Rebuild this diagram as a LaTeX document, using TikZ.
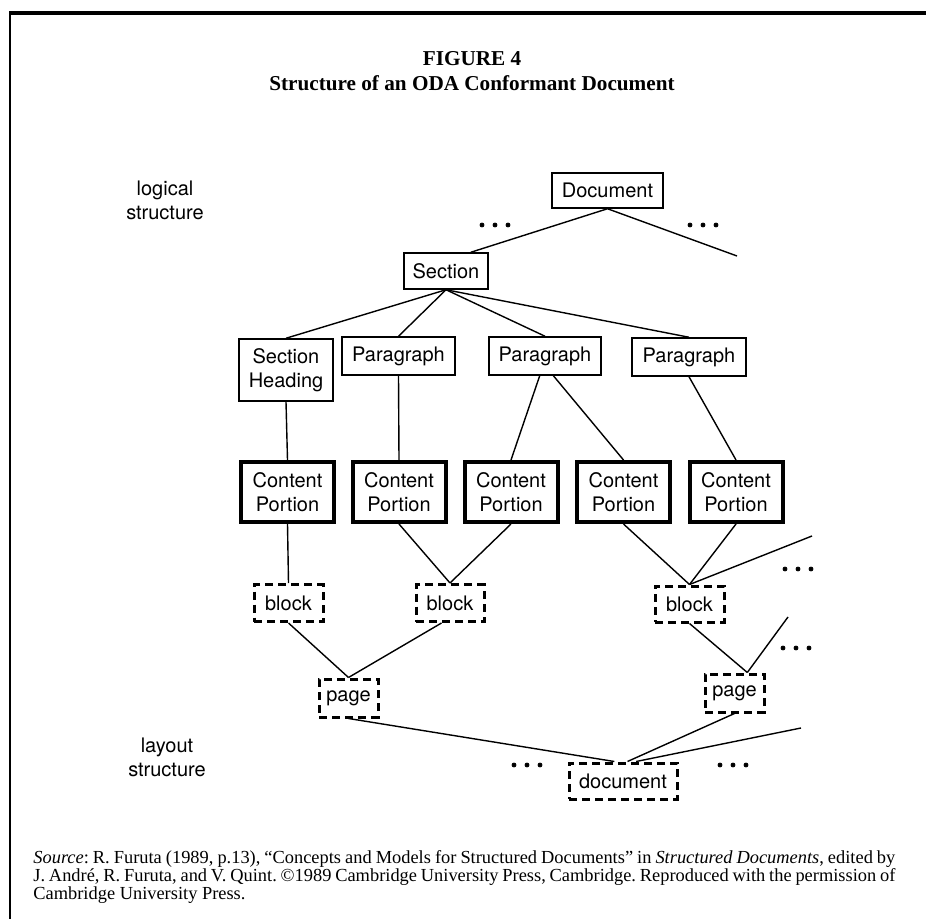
\documentclass[tikz,border=0pt]{standalone}
\usepackage{fontspec}
\setmainfont{Liberation Serif}
\setsansfont{TeX Gyre Heros}
\frenchspacing
\begin{document}
\begin{tikzpicture}[x=0.5pt,y=-0.5pt,
  lbox/.style={draw,line width=0.75pt,inner sep=0pt,align=center,font=\sffamily\fontsize{10}{12}\selectfont},
  cbox/.style={lbox,line width=2pt,minimum width=46.5pt,minimum height=30pt},
  dbox/.style={lbox,line width=1.5pt,dash pattern=on 4pt off 2.5pt},
  edge/.style={line width=0.7pt}]
\useasboundingbox (0,0) rectangle (926,919);
%frame
\draw [line width=2pt] (9,13)--(926,13);
\draw [line width=1pt] (9.5,13)--(9.5,919);
%title
\node (fig) at (472,59) {\fontsize{10.6}{12}\selectfont\bfseries FIGURE 4};
\node (title) at (472,83) {\fontsize{10.6}{12}\selectfont\bfseries Structure of an ODA Conformant Document};
\node (logical) [align=center,font=\sffamily\fontsize{10}{12}\selectfont] at (165,200) {logical\\structure};
\node (layout) [align=center,font=\sffamily\fontsize{10}{12}\selectfont] at (167,757) {layout\\structure};
%logical structure
\node (lgdoc) [lbox,minimum width=55.5pt,minimum height=17.5pt] at (607.5,190.5) {Document};
\node (sec) [lbox,minimum width=42pt,minimum height=18pt] at (446,271) {Section};
\node (sh) [lbox,minimum width=47pt,minimum height=31pt] at (286,370) {Section\\Heading};
\node (para1) [lbox,minimum width=56.5pt,minimum height=19pt] at (398.5,356) {Paragraph};
\node (para2) [lbox,minimum width=56pt,minimum height=19pt] at (545,356) {Paragraph};
\node (para3) [lbox,minimum width=57pt,minimum height=19pt] at (689,357) {Paragraph};
\node (cp1) [cbox] at (287.5,492) {Content\\Portion};
\node (cp2) [cbox] at (399,492) {Content\\Portion};
\node (cp3) [cbox] at (511,492) {Content\\Portion};
\node (cp4) [cbox] at (623.5,492) {Content\\Portion};
\node (cp5) [cbox] at (736,492) {Content\\Portion};
%layout structure
\node (blk1) [dbox,minimum width=34.5pt,minimum height=18.5pt] at (288.5,603) {block};
\node (blk2) [dbox,minimum width=34pt,minimum height=18.5pt] at (450,603) {block};
\node (blk3) [dbox,minimum width=34.5pt,minimum height=18pt] at (689.5,604) {block};
\node (pg1) [dbox,minimum width=29.5pt,minimum height=19pt] at (348.5,698) {page};
\node (pg2) [dbox,minimum width=29.5pt,minimum height=19pt] at (734.5,693) {page};
\node (lydoc) [dbox,minimum width=54pt,minimum height=18pt] at (623,781) {document};
\coordinate (e1) at (737,256);
\coordinate (e2) at (812,536);
\coordinate (e3) at (788,617);
\coordinate (e4) at (801,728);
%
\draw [edge] (lgdoc.south)--(sec.37);
\draw [edge] (lgdoc.south)--(e1);
\draw [edge] (sec.south)--(sh.north);
\draw [edge] (sec.south)--(para1.north);
\draw [edge] (sec.south)--(para2.north);
\draw [edge] (sec.south)--(para3.north);
\draw [edge] (sh.south)--(cp1.north);
\draw [edge] (para1.south)--(cp2.north);
\draw [edge] (para2.255)--(cp3.north);
\draw [edge] (para2.293)--(cp4.north);
\draw [edge] (para3.south)--(cp5.north);
\draw [edge] (cp1.south)--(blk1.north);
\draw [edge] (cp2.south)--(blk2.north);
\draw [edge] (cp3.south)--(blk2.north);
\draw [edge] (cp4.south)--(blk3.north);
\draw [edge] (cp5.south)--(blk3.north);
\draw [edge] (blk3.north)--(e2);
\draw [edge] (blk1.south)--(pg1.north);
\draw [edge] (blk2.247)--(pg1.north);
\draw [edge] (blk3.south)--(pg2.58);
\draw [edge] (pg2.58)--(e3);
\draw [edge] (pg1.south)--(lydoc.114);
\draw [edge] (pg2.south)--(lydoc.77);
\draw [edge] (lydoc.56)--(e4);
%dots
\foreach \x/\y in {495/225,703/225,798/569,796/648,527/765,733/765}
  \filldraw [black] (\x-13,\y) circle (1pt) (\x,\y) circle (1pt) (\x+13,\y) circle (1pt);
%source
\node (src) [anchor=north west,text width=431pt,inner sep=0pt,align=justify,font=\fontsize{9.2}{9}\selectfont] at (33,850)
{\noindent\textit{Source}: R. Furuta (1989, p.13), “Concepts and Models for Structured Documents” in \textit{Structured Documents}, edited by\linebreak J. André, R. Furuta, and V. Quint. ©1989 Cambridge University Press, Cambridge. Reproduced with the permission of\linebreak Cambridge University Press.};
\end{tikzpicture}
\end{document}
